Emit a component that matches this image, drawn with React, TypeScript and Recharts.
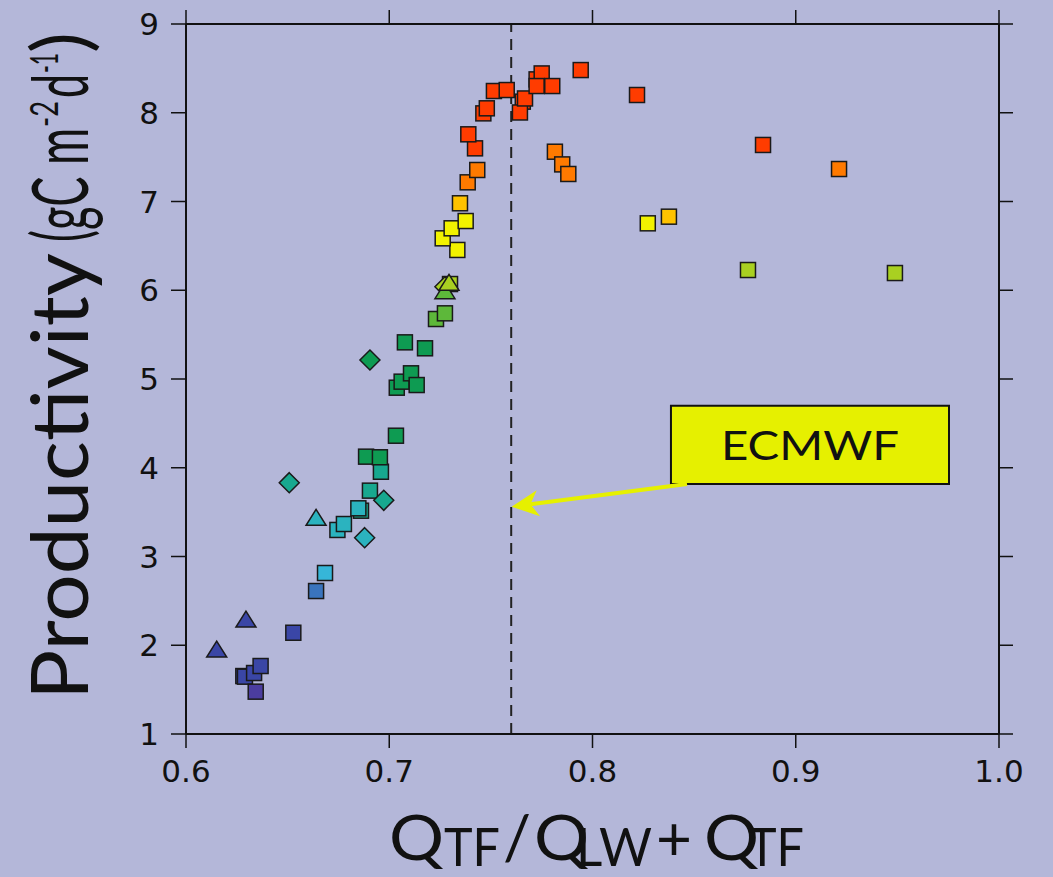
import React from 'react';
import { ScatterChart, Scatter, XAxis, YAxis, ReferenceLine, ReferenceArea } from 'recharts';

// Q_TF / (Q_LW + Q_TF) ratio, productivity (gC m-2 d-1), marker kind and colour band per point
const QRATIO = [
  0.6151, 0.6295, 0.6528, 0.6282, 0.629, 0.6335, 0.6367, 0.6343, 0.664, 0.6684,
  0.6508, 0.664, 0.6745, 0.6777, 0.6879, 0.6861, 0.6848, 0.6905, 0.6973, 0.6959,
  0.6886, 0.6954, 0.7033, 0.6905, 0.7077, 0.7176, 0.7037, 0.7061, 0.7107, 0.7135,
  0.723, 0.7274, 0.7299, 0.7274, 0.7274, 0.7294, 0.7335, 0.7263, 0.7307, 0.7376,
  0.7348, 0.7386, 0.7433, 0.7422, 0.7389, 0.7463, 0.748, 0.7515, 0.7578, 0.7657,
  0.7643, 0.7668, 0.7725, 0.775, 0.7725, 0.7802, 0.7942, 0.7815, 0.7851, 0.7881,
  0.8272, 0.8376, 0.8219, 0.8839, 0.9213, 0.8765, 0.9488,
];
const PRODUCTIVITY = [
  1.946, 2.284, 2.141, 1.653, 1.646, 1.687, 1.766, 1.477, 2.611, 2.814,
  3.832, 3.43, 3.299, 3.366, 3.212, 3.516, 3.543, 3.742, 3.633, 3.955,
  4.125, 4.118, 4.361, 5.214, 5.413, 5.346, 4.902, 4.97, 5.064, 4.932,
  5.676, 5.74, 6.07, 6.04, 5.984, 6.078, 6.454, 6.585, 6.698, 6.78,
  6.98, 7.216, 7.355, 7.599, 7.757, 7.993, 8.05, 8.245, 8.256, 8.125,
  8.003, 8.161, 8.376, 8.443, 8.301, 8.301, 8.481, 7.561, 7.418, 7.31,
  6.754, 6.829, 8.2, 7.637, 7.366, 6.228, 6.194,
];
const MARKER = [
  't', 't', 's', 's', 's', 's', 's', 's', 's', 's',
  'd', 't', 's', 's', 'd', 's', 's', 's', 'd', 's',
  's', 's', 's', 'd', 's', 's', 's', 's', 's', 's',
  's', 's', 's', 'd', 't', 't', 's', 's', 's', 's',
  's', 's', 's', 's', 's', 's', 's', 's', 's', 's',
  's', 's', 's', 's', 's', 's', 's', 's', 's', 's',
  's', 's', 's', 's', 's', 's', 's',
];
const BAND = [
  1, 1, 1, 1, 1, 1, 1, 0, 2, 3,
  5, 4, 4, 4, 4, 5, 4, 5, 5, 5,
  6, 6, 6, 6, 6, 6, 6, 6, 6, 6,
  7, 7, 8, 8, 7, 8, 9, 9, 9, 9,
  10, 11, 11, 12, 12, 12, 12, 12, 12, 12,
  12, 12, 12, 12, 12, 12, 12, 11, 11, 11,
  9, 10, 12, 12, 11, 8, 8,
];
const X_TICKS = [0.6, 0.7, 0.8, 0.9, 1.0];
const Y_TICKS = [1, 2, 3, 4, 5, 6, 7, 8, 9];
const ECMWF_RATIO = 0.76;

const PALETTE = ['#4b3d9f', '#3a46a6', '#3a74bd', '#36b6d8', '#2bb3bf', '#17a88f', '#0e9b52', '#5db83a', '#a9d021', '#f2f200', '#ffc200', '#ff7a00', '#ff3c00'];
const BG = '#b4b7d9';
const INK = '#111';
const FONT = 'Lato';

const data = QRATIO.map((x, i) => ({ x, y: PRODUCTIVITY[i], marker: MARKER[i], band: BAND[i] }));

function Marker({ cx, cy, payload }: any) {
  if (cx == null || cy == null) return null;
  const fill = PALETTE[payload.band];
  const common = { fill, stroke: '#1a1a1a', strokeWidth: 1.5 };
  if (payload.marker === 't') {
    return <polygon points={`${cx},${cy - 9} ${cx + 10},${cy + 7} ${cx - 10},${cy + 7}`} {...common} />;
  }
  if (payload.marker === 'd') {
    return <polygon points={`${cx},${cy - 10} ${cx + 10},${cy} ${cx},${cy + 10} ${cx - 10},${cy}`} {...common} />;
  }
  return <rect x={cx - 7.5} y={cy - 7.5} width={15} height={15} {...common} />;
}

function Arrow({ x1, y1, x2, y2 }: any) {
  if (x1 == null) return null;
  const ang = Math.atan2(y2 - y1, x2 - x1);
  const ux = Math.cos(ang), uy = Math.sin(ang);
  const px = -uy, py = ux;
  const len = 27, half = 13, notch = 19;
  const bx = x2 - ux * len, by = y2 - uy * len;
  const nx = x2 - ux * notch, ny = y2 - uy * notch;
  const pts = `${x2},${y2} ${bx + px * half},${by + py * half} ${nx},${ny} ${bx - px * half},${by - py * half}`;
  return (
    <g>
      <line x1={x1} y1={y1} x2={nx} y2={ny} stroke="#e6f000" strokeWidth={4} />
      <polygon points={pts} fill="#e6f000" />
    </g>
  );
}

const noTick = () => <g />;
const hidden = () => <g />;

const fit = { lengthAdjust: 'spacingAndGlyphs' as const };

function XTitle() {
  return (
    <g fontFamily={FONT} fill={INK}>
      <text x={389} y={860} fontSize={62} textLength={55} {...fit}>Q</text>
      <text x={444} y={866} fontSize={52} textLength={56} {...fit}>TF</text>
      <text x={503} y={860} fontSize={62}>/</text>
      <text x={534} y={860} fontSize={62} textLength={55} {...fit}>Q</text>
      <text x={576} y={866} fontSize={52} textLength={76} {...fit}>LW</text>
      <text x={656} y={860} fontSize={62}>+</text>
      <text x={704} y={860} fontSize={62} textLength={55} {...fit}>Q</text>
      <text x={748} y={866} fontSize={52} textLength={56} {...fit}>TF</text>
    </g>
  );
}

function YTitle() {
  return (
    <g transform="translate(88,700) rotate(-90)" fontFamily={FONT} fill={INK}>
      <text x={0} y={0} fontSize={80} textLength={447} {...fit}>Productivity</text>
      <text x={458} y={0} fontSize={78} textLength={114} {...fit}>(gC m</text>
      <text x={573} y={-30} fontSize={38} textLength={26} {...fit}>-2</text>
      <text x={602} y={0} fontSize={78} textLength={24} {...fit}>d</text>
      <text x={627} y={-30} fontSize={38} textLength={20} {...fit}>-1</text>
      <text x={647} y={0} fontSize={78}>)</text>
    </g>
  );
}

export default function App() {
  return (
    <div style={{ position: 'absolute', left: 0, top: 0, width: 1053, height: 877, background: BG }}>
      <ScatterChart width={1053} height={877} margin={{ top: 23, right: 53, bottom: 83, left: 126 }}>
        <XAxis
          type="number" dataKey="x" domain={[0.6, 1.0]} ticks={X_TICKS} height={60}
          tickFormatter={(v: number) => v.toFixed(1)} tickSize={14} tickMargin={12}
          tick={{ fontSize: 31, fill: INK, fontFamily: 'DejaVu Sans' }}
          axisLine={{ stroke: INK, strokeWidth: 2 }} tickLine={{ stroke: INK, strokeWidth: 1.5 }}
          allowDataOverflow
          label={() => <XTitle />}
        />
        <XAxis
          xAxisId="top" orientation="top" type="number" dataKey="x" domain={[0.6, 1.0]} ticks={X_TICKS}
          height={1} tickSize={14} tick={noTick} allowDataOverflow
          axisLine={{ stroke: INK, strokeWidth: 2 }} tickLine={{ stroke: INK, strokeWidth: 1.5 }}
        />
        <YAxis
          type="number" dataKey="y" domain={[1, 9]} ticks={Y_TICKS} width={60}
          tickSize={15} tickMargin={12}
          tick={{ fontSize: 31, fill: INK, fontFamily: 'DejaVu Sans' }}
          axisLine={{ stroke: INK, strokeWidth: 2 }} tickLine={{ stroke: INK, strokeWidth: 1.5 }}
          allowDataOverflow
          label={() => <YTitle />}
        />
        <YAxis
          yAxisId="right" orientation="right" type="number" dataKey="y" domain={[1, 9]} ticks={Y_TICKS}
          width={1} tickSize={14} tick={noTick} allowDataOverflow
          axisLine={{ stroke: INK, strokeWidth: 2 }} tickLine={{ stroke: INK, strokeWidth: 1.5 }}
        />
        <ReferenceLine x={ECMWF_RATIO} stroke="#222" strokeWidth={2} strokeDasharray="11 7" />
        <Scatter data={data} xAxisId="top" yAxisId="right" shape={hidden} isAnimationActive={false} />
        <Scatter data={data} shape={Marker} isAnimationActive={false} />
        <ReferenceArea
          x1={0.8386} x2={0.9754} y1={3.817} y2={4.699}
          fill="#e6f000" fillOpacity={1} stroke={INK} strokeWidth={2}
          label={(p: any) => {
            const vb = p.viewBox || {};
            return (
              <text x={vb.x + vb.width / 2} y={vb.y + vb.height / 2 + 15} textAnchor="middle"
                fontFamily={FONT} fontSize={41} fill={INK} textLength={178} lengthAdjust="spacingAndGlyphs">
                ECMWF
              </text>
            );
          }}
        />
        <ReferenceLine
          segment={[{ x: 0.8465, y: 3.817 }, { x: 0.7602, y: 3.561 }]}
          shape={Arrow}
        />
      </ScatterChart>
    </div>
  );
}
